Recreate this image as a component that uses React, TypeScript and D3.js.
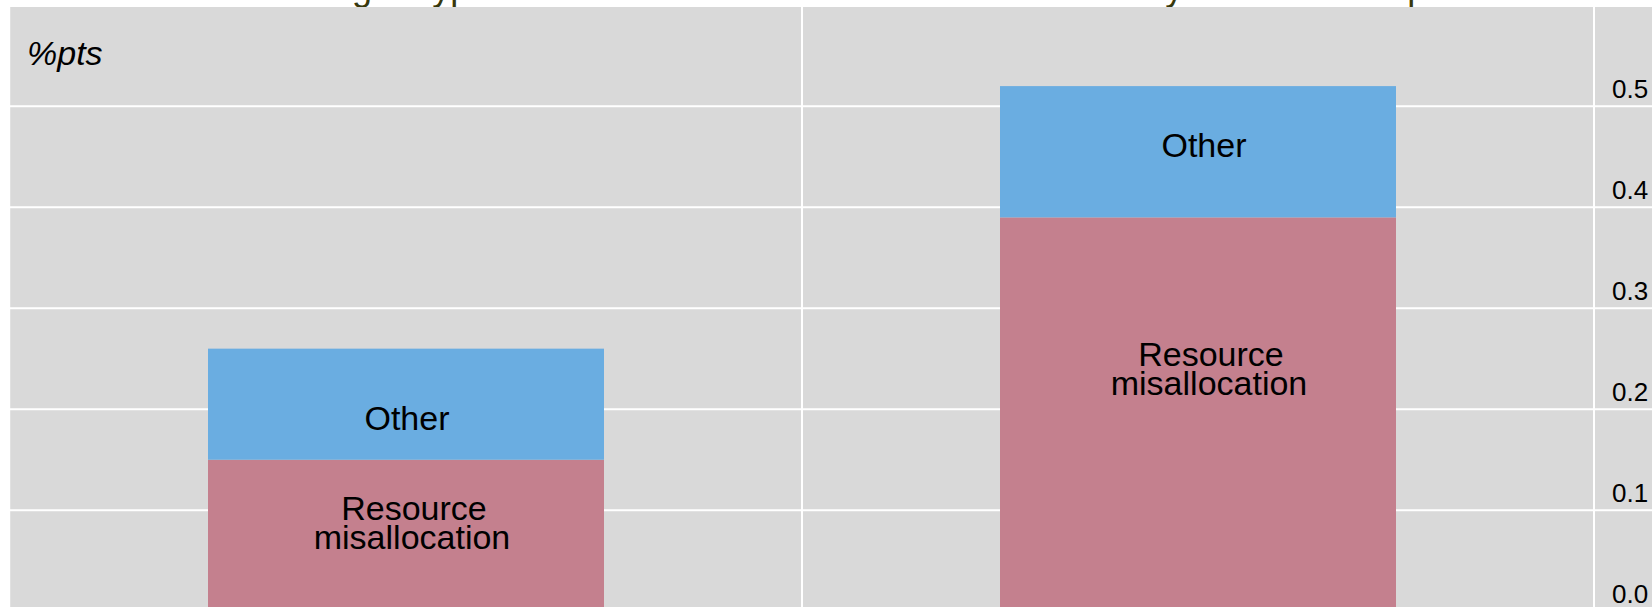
import * as d3 from "d3";

// values (percentage points)
const categories = ["Estimate A", "Estimate B"];
const seriesKeys = ["misallocation", "other"];
const misallocation = [0.15, 0.39];
const other = [0.11, 0.13];
const yTicks = [0, 0.1, 0.2, 0.3, 0.4, 0.5];

// where the in-bar labels sit, in axis units (baseline of first line)
const otherLabelAt = [0.179, 0.45];
const resourceLabelAt = [0.09, 0.243];

const title =
  "Chart 3: Ranking of types of shock behind the UK TFP slowdown by firm size and period";

const W = 1652;
const H = 607;
const FONT = "'Liberation Sans', Arial, Helvetica, sans-serif";

const colors: Record<string, string> = {
  misallocation: "#c4808e",
  other: "#6aade1",
};

// labels are nudged a little right of the bar centre, more so on the 2nd bar
const labelShift = [0, 5];

export default function App() {
  const plotLeft = 10;
  const plotRight = 1594;
  const plotTop = 7;

  const x = d3
    .scaleBand<string>()
    .domain(categories)
    .range([plotLeft, plotRight])
    .paddingInner(0.5)
    .paddingOuter(0.25);

  const y = d3.scaleLinear().domain([0, 0.5]).range([611.2, 106.3]);

  const rows = categories.map((c, i) => ({
    cat: c,
    misallocation: misallocation[i],
    other: other[i],
  }));
  const stacked = d3.stack<any>().keys(seriesKeys)(rows);

  // category separators: start of each band step, plus the end
  const step = x.step();
  const seps = categories
    .map((c) => (x(c) as number) - step * 0.25)
    .concat([plotRight]);

  return (
    <svg
      width={W}
      height={H}
      style={{ position: "absolute", left: 0, top: 0, background: "#fff" }}
      fontFamily={FONT}
    >
      {/* title, mostly cropped off the top */}
      <text x={102} y={-0.5} fontSize={36} fill="#38380c">
        {title}
      </text>

      <rect x={plotLeft} y={plotTop} width={W - plotLeft} height={H - plotTop} fill="#d9d9d9" />

      {/* horizontal gridlines */}
      {yTicks.map((t) => (
        <line
          key={"g" + t}
          x1={plotLeft}
          x2={W}
          y1={y(t)}
          y2={y(t)}
          stroke="#fff"
          strokeWidth={2}
        />
      ))}

      {/* vertical separators */}
      {seps.map((sx, i) => (
        <line
          key={"v" + i}
          x1={sx}
          x2={sx}
          y1={plotTop}
          y2={H}
          stroke="#fff"
          strokeWidth={i === 0 ? 1 : 2}
          strokeOpacity={i === 0 ? 0.45 : 1}
        />
      ))}

      {/* stacked bars */}
      {stacked.map((s) => (
        <g key={s.key} fill={colors[s.key]}>
          {s.map((d, i) => (
            <rect
              key={i}
              x={x(categories[i])}
              width={x.bandwidth()}
              y={y(d[1])}
              height={y(d[0]) - y(d[1])}
            />
          ))}
        </g>
      ))}

      {/* bar labels */}
      {categories.map((c, i) => {
        const cx = (x(c) as number) + x.bandwidth() / 2 + labelShift[i];
        return (
          <g key={"l" + c} fontSize={34} fill="#000" textAnchor="middle">
            <text x={cx + 1} y={y(otherLabelAt[i])}>
              Other
            </text>
            <text x={cx + 8} y={y(resourceLabelAt[i])}>
              Resource
            </text>
            <text x={cx + 6} y={y(resourceLabelAt[i]) + 29}>
              misallocation
            </text>
          </g>
        );
      })}

      {/* unit label */}
      <text x={27} y={65} fontSize={34} fontStyle="italic" fill="#000">
        %pts
      </text>

      {/* right-hand axis labels, sitting just above each gridline */}
      {yTicks.map((t) => (
        <text key={"t" + t} x={1612} y={y(t) - 8} fontSize={26} fill="#000">
          {t.toFixed(1)}
        </text>
      ))}
    </svg>
  );
}
